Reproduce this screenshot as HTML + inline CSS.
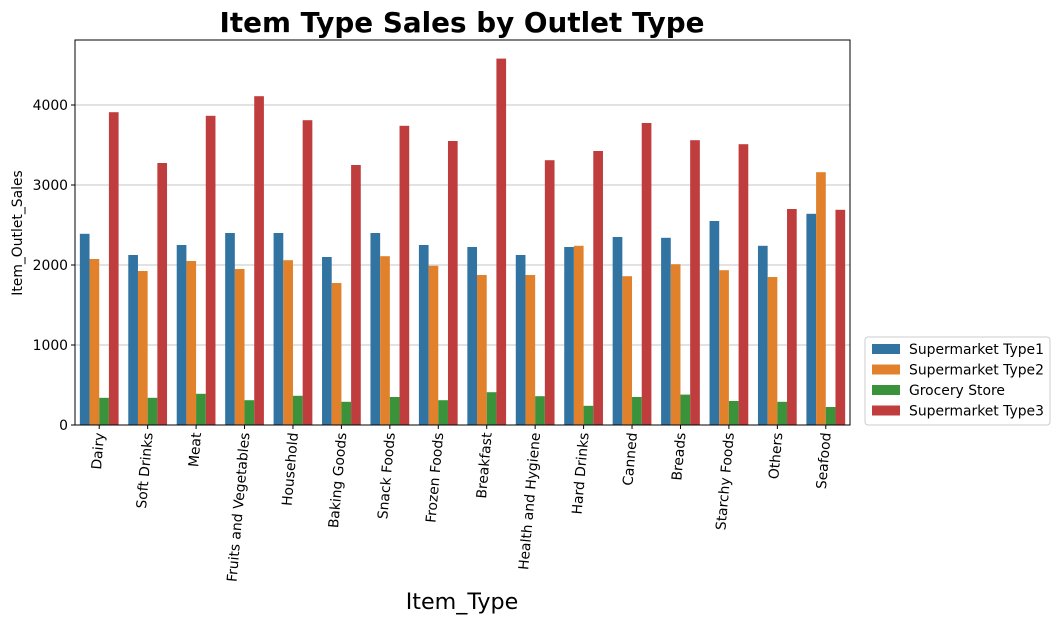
<!DOCTYPE html>
<html><head><meta charset="utf-8"><style>
body{margin:0;background:#fff;width:1060px;height:625px;overflow:hidden}
text{font-family:"DejaVu Sans",sans-serif}
</style></head><body>
<svg id="c" width="1060" height="625"></svg>
<script>
const categories=["Dairy","Soft Drinks","Meat","Fruits and Vegetables","Household","Baking Goods","Snack Foods","Frozen Foods","Breakfast","Health and Hygiene","Hard Drinks","Canned","Breads","Starchy Foods","Others","Seafood"];
const seriesNames=["Supermarket Type1","Supermarket Type2","Grocery Store","Supermarket Type3"];
const type1=[2390,2125,2250,2400,2400,2100,2400,2250,2225,2125,2225,2350,2340,2550,2240,2640];
const type2=[2075,1925,2050,1950,2060,1775,2110,1990,1875,1875,2240,1860,2010,1935,1850,3160];
const grocery=[340,340,390,310,365,290,350,310,410,360,240,350,380,300,290,225];
const type3=[3910,3275,3865,4110,3810,3250,3740,3550,4580,3310,3425,3775,3560,3510,2700,2690];
const yTicks=[0,1000,2000,3000,4000];
const colors=["#3274a1","#e1812c","#3a923a","#c03d3e"];
const series=[type1,type2,grocery,type3];
const svg=document.getElementById('c');const NS="http://www.w3.org/2000/svg";
function mk(t,a,p){const e=document.createElementNS(NS,t);for(const k in a)e.setAttribute(k,a[k]);(p||svg).appendChild(e);return e;}
const L=75,R=850,T=40,B=425;
const y=v=>B-v*(320/4000);
const bw=(R-L)/categories.length;
const x=i=>L+i*bw;
yTicks.forEach(t=>{
 const g=mk('line',{x1:L,x2:R,y1:y(t),y2:y(t),stroke:'#b0b0b0','stroke-width':0.8});
 
 
 mk('line',{x1:L-4,x2:L,y1:y(t),y2:y(t),stroke:'#000'});
 const tx=mk('text',{x:L-7,y:y(t)+5,'text-anchor':'end','font-size':13.9});tx.textContent=t;
 
 
});
const w=bw*0.8/4;
series.forEach((s,si)=>{s.forEach((v,i)=>{
 const r=mk('rect',{x:x(i)+bw*0.1+si*w,y:y(v),width:w,height:B-y(v),fill:colors[si]});
 
 
});});
categories.forEach((c,i)=>{
 const cx=x(i)+bw/2;
 mk('line',{x1:cx,x2:cx,y1:B,y2:B+4,stroke:'#000'});
 const t=mk('text',{transform:`translate(${cx+5},${B+8}) rotate(-85)`,'text-anchor':'end','font-size':13.9});t.textContent=c;
 
 
});
const f=mk('rect',{x:L,y:T,width:R-L,height:B-T,fill:'none',stroke:'#000','stroke-width':1});


const ti=mk('text',{x:462,y:32,'text-anchor':'middle','font-size':27.8,'font-weight':'bold'});ti.textContent="Item Type Sales by Outlet Type";


const xl=mk('text',{x:462,y:609,'text-anchor':'middle','font-size':22.2});xl.textContent="Item_Type";


const yl=mk('text',{transform:'translate(22,233) rotate(-90)','text-anchor':'middle','font-size':13.9});yl.textContent="Item_Outlet_Sales";


const lg=mk('rect',{x:865,y:337,width:185,height:88,rx:3,fill:'#fff',stroke:'#ccc'});


seriesNames.forEach((n,i)=>{
 const yy=349+i*20.5;
 mk('rect',{x:872,y:yy-5,width:28,height:10,fill:colors[i]});
 const t=mk('text',{x:909,y:yy+5,'font-size':13.9});t.textContent=n;
 
 
});
</script>
</body></html>
